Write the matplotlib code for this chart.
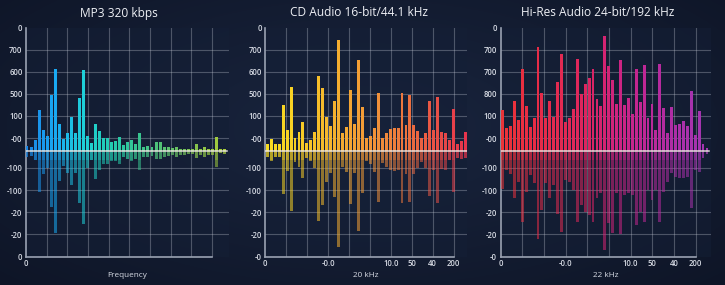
import matplotlib
matplotlib.use("Agg")
import matplotlib.pyplot as plt
import numpy as np
from matplotlib.colors import LinearSegmentedColormap

plt.rcParams['font.family'] = ['Open Sans', 'DejaVu Sans']

# ---------------- data ----------------
titles = ["MP3 320 kbps", "CD Audio 16-bit/44.1 kHz", "Hi-Res Audio 24-bit/192 kHz"]
xlabels = ["Frequency", "20 kHz", "22 kHz"]

y_tick_pos = [5.6, 4.6, 3.6, 2.6, 1.6, 0.58, -0.77, -1.79, -2.8, -3.8, -4.82]
y_labels_mp3 = ["0", "700", "600", "500", "100", "-00", "-100", "-100", "-20", "-20", "0"]
y_labels_cd = ["0", "700", "600", "500", "100", "-00", "-100", "-100", "-20", "-20", "-0"]
y_labels_hr = ["0", "700", "700", "800", "100", "-00", "-100", "-100", "-20", "-20", "-0"]

x_labels_mp3 = ["0"]
x_labels_cd = ["0", "-0.0", "10.0", "50", "40", "200"]
x_labels_hr = ["0", "-0.0", "10.0", "50", "40", "200"]

mp3_up = [0.21, 0.15, 0.48, 1.85, 0.94, 0.67, 2.56, 3.71, 1.24, 0.55,
          0.82, 1.52, 0.82, 2.42, 3.67, 0.67, 0.36, 1.24, 0.89, 0.58,
          0.58, 0.39, 0.45, 0.61, 0.24, 0.41, 0.48, 0.30, 0.82, 0.15,
          0.21, 0.18, 0.39, 0.39, 0.18, 0.15, 0.12, 0.18, 0.09, 0.09,
          0.06, 0.06, 0.33, 0.09, 0.18, 0.09, 0.09, 0.64, 0.06, 0.09]
mp3_down = [0.27, 0.24, 0.42, 1.89, 1.06, 0.80, 2.58, 3.73, 1.36, 0.70,
            1.00, 1.58, 1.00, 2.39, 3.35, 0.80, 0.42, 1.29, 0.88, 0.58,
            0.58, 0.45, 0.48, 0.61, 0.27, 0.39, 0.45, 0.36, 0.88, 0.27,
            0.30, 0.24, 0.36, 0.36, 0.27, 0.24, 0.21, 0.27, 0.18, 0.18,
            0.15, 0.15, 0.33, 0.18, 0.27, 0.18, 0.18, 0.76, 0.12, 0.15]

cd_up = [0.33, 0.52, 0.33, 0.33, 2.08, 0.94, 2.91, 0.56, 0.86, 1.32,
         0.36, 0.48, 0.86, 3.38, 2.86, 1.55, 1.14, 2.27, 5.03, 0.82,
         1.06, 2.76, 1.20, 4.15, 2.00, 0.56, 0.67, 1.02, 2.61, 0.59,
         0.82, 0.98, 1.05, 1.02, 2.61, 1.17, 2.56, 1.17, 0.89, 0.56,
         0.79, 2.27, 0.94, 2.45, 0.86, 0.82, 0.48, 1.89, 0.33, 0.44, 0.86]
cd_down = [0.30, 0.45, 0.30, 0.30, 1.97, 0.91, 2.76, 0.50, 0.76, 1.26,
           0.35, 0.45, 0.80, 3.18, 2.48, 1.41, 1.00, 2.09, 4.36, 0.73,
           0.95, 2.42, 1.03, 3.65, 1.91, 0.47, 0.58, 0.95, 2.33, 0.55,
           0.73, 0.88, 0.91, 0.88, 2.36, 1.06, 2.33, 1.06, 0.80, 0.50,
           0.80, 2.06, 0.88, 2.36, 0.82, 0.88, 0.42, 1.86, 0.35, 0.38, 0.35]

hr_up = [1.85, 1.02, 1.14, 2.27, 1.42, 3.74, 2.03, 1.09, 1.47, 4.70,
         2.65, 1.50, 2.27, 1.55, 3.11, 4.39, 1.32, 1.50, 1.89, 4.17,
         2.58, 3.06, 3.32, 3.70, 2.35, 2.05, 5.23, 3.85, 3.24, 2.12,
         4.12, 2.08, 2.39, 1.67, 3.71, 2.23, 3.89, 1.47, 2.12, 0.94,
         3.94, 1.95, 0.82, 1.97, 1.17, 1.24, 1.35, 1.14, 2.73, 0.74,
         1.82, 0.33, 0.11]
hr_down = [1.76, 0.88, 1.06, 2.17, 1.41, 3.23, 1.86, 1.11, 1.45, 4.00,
           2.70, 1.48, 2.17, 1.55, 2.88, 3.68, 1.33, 1.44, 1.79, 3.23,
           2.47, 2.77, 2.92, 3.23, 2.17, 1.94, 4.52, 3.30, 3.76, 1.94,
           3.79, 2.02, 1.94, 2.02, 3.38, 2.77, 3.23, 1.79, 2.24, 1.79,
           3.23, 1.86, 1.41, 1.03, 1.18, 1.26, 1.26, 1.18, 2.62, 0.88,
           0.95, 0.35, 0.15]

# ---------------- style / layout ----------------
W, H = 725, 285
fig = plt.figure(figsize=(W / 100, H / 100), dpi=100)
fig.patch.set_facecolor('#0f182c')

# background gradient
bg = fig.add_axes([0, 0, 1, 1], zorder=-10)
yy, xx = np.mgrid[0:1:200j, 0:1:400j]
rad = np.sqrt(((xx - 0.5) / 0.8) ** 2 + ((yy - 0.45) / 0.9) ** 2)
c0 = np.array([0.10, 0.145, 0.245])
c1 = np.array([0.05, 0.075, 0.14])
t = np.clip(rad, 0, 1)[..., None]
bg.imshow(c0 * (1 - t) + c1 * t, aspect='auto', extent=[0, 1, 0, 1])
bg.set_axis_off()

panels = [
    dict(title=titles[0], xlabel=xlabels[0], up=mp3_up, down=mp3_down,
         ylabels=y_labels_mp3, xlabels=x_labels_mp3, xtick_idx=[0],
         left=26.0, right=229.0, xlim=(-0.25, 50.1), grid_end=0.916,
         colors=['#1a86e6', '#19a9f2', '#1fd0d8', '#22cbb0', '#38c48e',
                 '#5cbf6c', '#86c24c', '#a9cc3a']),
    dict(title=titles[1], xlabel=xlabels[1], up=cd_up, down=cd_down,
         ylabels=y_labels_cd, xlabels=x_labels_cd, xtick_idx=[0, 3, 6, 7, 8, 9],
         left=265.3, right=467.0, xlim=(-0.5, 50.4), grid_end=0.934,
         colors=['#f7dc22', '#f8d024', '#f6ba2c', '#f4a434', '#f08e3a',
                 '#ec703e', '#e85046', '#e6344c']),
    dict(title=titles[2], xlabel=xlabels[2], up=hr_up, down=hr_down,
         ylabels=y_labels_hr, xlabels=x_labels_hr, xtick_idx=[0, 3, 6, 7, 8, 9],
         left=500.7, right=710.5, xlim=(-0.5, 52.9), grid_end=0.929,
         colors=['#ea3438', '#e82c44', '#e22a52', '#dc2462', '#cc2482',
                 '#bc2898', '#ac2ea8', '#a236b2']),
]

top_px, bot_px = 27.7, 256.7
text_col = '#d8dce5'

for p in panels:
    ax = fig.add_axes([p['left'] / W, 1 - bot_px / H,
                       (p['right'] - p['left']) / W, (bot_px - top_px) / H])
    ax.set_facecolor((0.08, 0.12, 0.21, 0.5))
    ax.set_xlim(*p['xlim'])
    ax.set_ylim(y_tick_pos[-1], y_tick_pos[0])

    up = np.array(p['up'])
    down = np.array(p['down'])
    n = len(up)
    x = np.arange(n)
    cmap = LinearSegmentedColormap.from_list('c', p['colors'])
    cols = cmap(np.linspace(0, 1, n))

    # grid
    for yv in y_tick_pos[1:-1]:
        ax.axhline(yv, color='#c8cdd8', alpha=0.32, lw=0.8, zorder=1)
    gx = [p['xlim'][0] + f * (p['xlim'][1] - p['xlim'][0])
          for f in np.linspace(0, p['grid_end'], 10)]
    for g in gx[1:]:
        ax.axvline(g, color='#c8cdd8', alpha=0.32, lw=0.8, zorder=1)

    # bars
    bw = 0.74
    ax.bar(x, up, width=bw, color=cols, zorder=3, linewidth=0)
    ax.bar(x, -down, width=bw, color=cols, alpha=0.55, zorder=3, linewidth=0)
    near = np.minimum(down, 0.4)
    ax.bar(x, -near, width=bw, color=cols, alpha=0.35, zorder=3, linewidth=0)

    # baseline
    ax.plot([-0.5, n - 0.5], [0, 0], color='#f2ece6', lw=1.1, alpha=0.9, zorder=4)

    # spines
    for s in ['top', 'right']:
        ax.spines[s].set_visible(False)
    for s in ['left', 'bottom']:
        ax.spines[s].set_color('#9aa2b2')
        ax.spines[s].set_linewidth(1.2)
    ax.spines['bottom'].set_bounds(gx[0], gx[-1])

    ax.set_yticks(y_tick_pos)
    ax.set_yticklabels(p['ylabels'], fontweight='semibold')
    ax.set_xticks([gx[i] for i in p['xtick_idx']])
    ax.set_xticklabels(p['xlabels'], fontweight='semibold')
    ax.tick_params(length=0, colors=text_col, labelsize=5.5, pad=2.5)
    ax.tick_params(axis='x', pad=1.5)

    ax.set_xlabel(p['xlabel'], color=text_col, fontsize=5.9, labelpad=3)

    cx = (p['left'] + p['grid_end'] * (p['right'] - p['left']) / 2) / W
    fig.text(cx, 1 - 13.0 / H, p['title'], color='#eef0f5', fontsize=8.6,
             ha='center', va='center')

fig.savefig('out.png', dpi=100, facecolor=fig.get_facecolor())
